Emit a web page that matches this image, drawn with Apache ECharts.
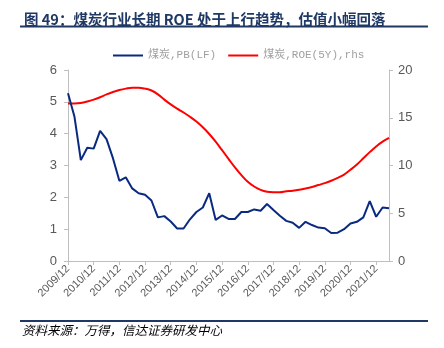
<!DOCTYPE html>
<html>
<head>
<meta charset="utf-8">
<script src="https://cdn.jsdelivr.net/npm/echarts@6/dist/echarts.min.js"></script>
<style>
  html, body { margin: 0; padding: 0; background: #fff; }
  #chart { width: 444px; height: 348px; }
</style>
</head>
<body>
<div id="chart"></div>
<script>
// Quarter-end dates
const quarters = [
  '2009/12',
  '2010/03','2010/06','2010/09','2010/12',
  '2011/03','2011/06','2011/09','2011/12',
  '2012/03','2012/06','2012/09','2012/12',
  '2013/03','2013/06','2013/09','2013/12',
  '2014/03','2014/06','2014/09','2014/12',
  '2015/03','2015/06','2015/09','2015/12',
  '2016/03','2016/06','2016/09','2016/12',
  '2017/03','2017/06','2017/09','2017/12',
  '2018/03','2018/06','2018/09','2018/12',
  '2019/03','2019/06','2019/09','2019/12',
  '2020/03','2020/06','2020/09','2020/12',
  '2021/03','2021/06','2021/09','2021/12',
  '2022/03','2022/06'
];

// 煤炭 PB(LF), left axis
const pbLF = [
  5.27,
  4.54, 3.17, 3.56, 3.53,
  4.09, 3.83, 3.23, 2.52,
  2.63, 2.28, 2.13, 2.08,
  1.90, 1.37, 1.41, 1.24,
  1.02, 1.02, 1.31, 1.54,
  1.68, 2.13, 1.29, 1.43,
  1.32, 1.32, 1.54, 1.54,
  1.62, 1.58, 1.79, 1.60,
  1.42, 1.26, 1.20, 1.04,
  1.23, 1.13, 1.05, 1.03,
  0.88, 0.89, 1.00, 1.18,
  1.23, 1.37, 1.88, 1.39,
  1.68, 1.66
];

// 煤炭 ROE(5Y), right axis (%)
const roe5Y = [
  16.5,
  16.5, 16.55, 16.7, 16.9,
  17.15, 17.45, 17.7, 17.9,
  18.05, 18.15, 18.15, 18.05,
  17.85, 17.45, 16.9, 16.4,
  15.95, 15.55, 15.1, 14.6,
  14.0, 13.3, 12.5, 11.6,
  10.7, 9.8, 9.0, 8.3,
  7.8, 7.45, 7.25, 7.2,
  7.2, 7.3, 7.35, 7.45,
  7.6, 7.75, 7.95, 8.15,
  8.4, 8.7, 9.05, 9.55,
  10.1, 10.75, 11.4, 12.0,
  12.5, 12.9
];

const seriesNames = ['煤炭,PB(LF)', '煤炭,ROE(5Y),rhs'];
const leftTicks = [0, 6, 1];    // min, max, interval
const rightTicks = [0, 20, 5];

const titleText = '图 49：煤炭行业长期 ROE 处于上行趋势，估值小幅回落';
const sourceText = '资料来源：万得，信达证券研发中心';

const navy = '#1f3864';
const axisGray = '#bfbfbf';
const labelGray = '#595959';

const chart = echarts.init(document.getElementById('chart'), null, { renderer: 'canvas' });

chart.setOption({
  animation: false,
  backgroundColor: '#ffffff',
  title: {
    text: titleText,
    left: 19,
    top: 7,
    textStyle: {
      fontSize: 14.5,
      fontWeight: 'bold',
      color: navy,
      fontFamily: '"Noto Sans CJK SC", sans-serif'
    }
  },
  graphic: [
    {
      type: 'line',
      shape: { x1: 20, y1: 26.5, x2: 428, y2: 26.5 },
      style: { stroke: navy, lineWidth: 2 }
    },
    {
      type: 'line',
      shape: { x1: 20, y1: 321, x2: 428, y2: 321 },
      style: { stroke: navy, lineWidth: 2 }
    },
    {
      type: 'text',
      left: 22,
      top: 324,
      style: {
        text: sourceText,
        fontSize: 12.5,
        fontStyle: 'italic',
        fill: '#000',
        fontFamily: '"Noto Sans CJK SC", sans-serif'
      }
    }
  ],
  legend: {
    top: 45,
    left: 108,
    itemWidth: 30,
    itemHeight: 2,
    itemGap: 12,
    icon: 'rect',
    textStyle: {
      fontSize: 11,
      color: '#a0a0a0',
      fontFamily: '"Liberation Mono", "DejaVu Sans Mono", "Noto Sans CJK SC", monospace'
    },
    data: seriesNames
  },
  grid: {
    left: 68,
    right: 55,
    top: 70,
    bottom: 87,
    containLabel: false
  },
  xAxis: {
    type: 'category',
    data: quarters,
    boundaryGap: false,
    axisLine: { lineStyle: { color: axisGray, width: 1 } },
    axisTick: {
      show: true,
      interval: 3,
      length: 4,
      lineStyle: { color: axisGray }
    },
    axisLabel: {
      interval: 3,
      rotate: 45,
      fontSize: 11,
      color: labelGray,
      margin: 6,
      fontFamily: 'Liberation Sans, Arial, sans-serif'
    },
    splitLine: { show: false }
  },
  yAxis: [
    {
      type: 'value',
      min: leftTicks[0],
      max: leftTicks[1],
      interval: leftTicks[2],
      position: 'left',
      axisLine: { show: true, lineStyle: { color: axisGray } },
      axisTick: { show: true, length: 4, lineStyle: { color: axisGray } },
      axisLabel: {
        fontSize: 13,
        color: labelGray,
        margin: 11,
        fontFamily: 'Liberation Sans, Arial, sans-serif'
      },
      splitLine: { show: false }
    },
    {
      type: 'value',
      min: rightTicks[0],
      max: rightTicks[1],
      interval: rightTicks[2],
      position: 'right',
      axisLine: { show: true, lineStyle: { color: axisGray } },
      axisTick: { show: true, length: 4, lineStyle: { color: axisGray } },
      axisLabel: {
        fontSize: 13,
        color: labelGray,
        margin: 9,
        fontFamily: 'Liberation Sans, Arial, sans-serif'
      },
      splitLine: { show: false }
    }
  ],
  series: [
    {
      name: seriesNames[0],
      type: 'line',
      yAxisIndex: 0,
      data: pbLF,
      showSymbol: false,
      symbol: 'none',
      smooth: false,
      lineStyle: { color: '#0a2a80', width: 2 },
      itemStyle: { color: '#0a2a80' },
      z: 3
    },
    {
      name: seriesNames[1],
      type: 'line',
      yAxisIndex: 1,
      data: roe5Y,
      showSymbol: false,
      symbol: 'none',
      smooth: 0.4,
      lineStyle: { color: '#ff0000', width: 2 },
      itemStyle: { color: '#ff0000' },
      z: 2
    }
  ]
});
</script>
</body>
</html>
